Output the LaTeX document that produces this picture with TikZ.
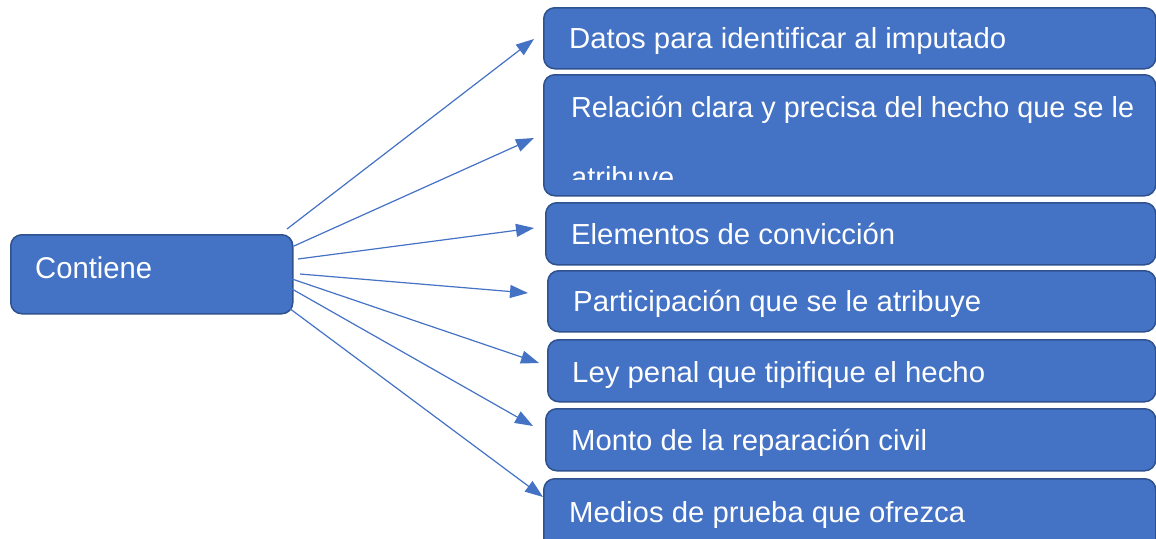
\documentclass[tikz,border=0pt]{standalone}
\usepackage{fontspec}
\setmainfont{Liberation Sans}
\usepackage{graphicx}
\usetikzlibrary{arrows.meta}
\definecolor{boxfill}{HTML}{4472C4}
\definecolor{boxline}{HTML}{2F528F}
\newcommand{\fitt}[3]{\resizebox{#1pt}{\height}{\fontsize{#2}{#2}\selectfont #3}}
\tikzset{
  box/.style={draw=boxline, fill=boxfill, line width=1.5pt, rounded corners=11pt,
    inner sep=0pt, anchor=north west},
  lbl/.style={text=white, inner sep=0pt, anchor=base west},
  conn/.style={draw=boxfill, line width=1.2pt, -{Triangle[length=18pt,width=13pt]}}
}
\begin{document}
\begin{tikzpicture}[x=1pt,y=-1pt]
\useasboundingbox (0,0) rectangle (1156,538);
\clip (0,0) rectangle (1156,538);
% boxes
\node[box, minimum width=282pt, minimum height=79pt] (c) at (10,234) {};
\node[box, minimum width=612pt, minimum height=61pt] (b1) at (543,7) {};
\node[box, minimum width=612pt, minimum height=121pt] (b2) at (543,74) {};
\node[box, minimum width=610pt, minimum height=62pt] (b3) at (545,202) {};
\node[box, minimum width=608pt, minimum height=61pt] (b4) at (547,270) {};
\node[box, minimum width=608pt, minimum height=62pt] (b5) at (547,339) {};
\node[box, minimum width=610pt, minimum height=62pt] (b6) at (545,408) {};
\node[box, minimum width=612pt, minimum height=75pt] (b7) at (543,478) {};
% labels
\node[lbl] (tc) at (35,278) {\fitt{117}{30}{Contiene}};
\node[lbl] (t1) at (569,48.5) {\fitt{437}{29}{Datos para identificar al imputado}};
\node[lbl] (t2) at (571,117.5) {\fitt{563}{29}{Relación clara y precisa del hecho que se le}};
\begin{scope}
\clip (543,74) rectangle (1155,179.5);
\node[lbl] (t2b) at (571,187) {\fontsize{29}{29}\selectfont atribuye};
\end{scope}
\node[lbl] (t3) at (571,244) {\fitt{324}{29}{Elementos de convicción}};
\node[lbl] (t4) at (573,311) {\fitt{408}{29}{Participación que se le atribuye}};
\node[lbl] (t5) at (572,382) {\fitt{413}{29}{Ley penal que tipifique el hecho}};
\node[lbl] (t6) at (571,450) {\fitt{356}{29}{Monto de la reparación civil}};
\node[lbl] (t7) at (569,522) {\fitt{396}{29}{Medios de prueba que ofrezca}};
% connector end points
\coordinate (s1) at (287,229); \coordinate (e1) at (534,39);
\coordinate (s2) at (294,246); \coordinate (e2) at (534,138);
\coordinate (s3) at (298,259); \coordinate (e3) at (534,228);
\coordinate (s4) at (300,274); \coordinate (e4) at (528,293);
\coordinate (s5) at (292,279); \coordinate (e5) at (539,363);
\coordinate (s6) at (292,289); \coordinate (e6) at (533,426);
\coordinate (s7) at (289,308); \coordinate (e7) at (543,497);
\foreach \i in {1,...,7} { \draw[conn] (s\i) -- (e\i); }
\end{tikzpicture}
\end{document}
